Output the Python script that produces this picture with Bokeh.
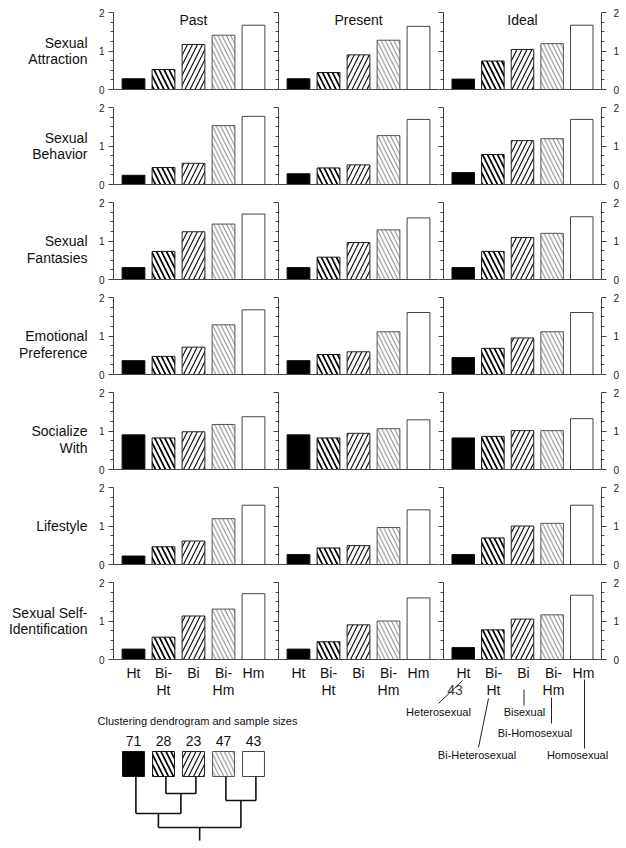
from bokeh.plotting import figure
from bokeh.layouts import row, column
from bokeh.models import Range1d, LinearAxis, FixedTicker, ColumnDataSource
from bokeh.core.properties import value
from bokeh.embed import file_html
from bokeh.resources import INLINE

# ---------------- data ----------------
groups = ["Ht", "Bi-Ht", "Bi", "Bi-Hm", "Hm"]
group_label_line1 = ["Ht", "Bi-", "Bi", "Bi-", "Hm"]
group_label_line2 = ["", "Ht", "", "Hm", ""]
group_names = ["Heterosexual", "Bi-Heterosexual", "Bisexual", "Bi-Homosexual", "Homosexual"]
periods = ["Past", "Present", "Ideal"]
dimensions = [["Sexual", "Attraction"], ["Sexual", "Behavior"], ["Sexual", "Fantasies"],
              ["Emotional", "Preference"], ["Socialize", "With"], ["Lifestyle"],
              ["Sexual Self-", "Identification"]]

past_values = [
    [0.28, 0.52, 1.17, 1.41, 1.67],
    [0.24, 0.44, 0.55, 1.53, 1.77],
    [0.31, 0.73, 1.24, 1.44, 1.70],
    [0.36, 0.47, 0.71, 1.29, 1.68],
    [0.90, 0.82, 0.98, 1.17, 1.37],
    [0.22, 0.46, 0.61, 1.19, 1.54],
    [0.27, 0.58, 1.13, 1.31, 1.71],
]
present_values = [
    [0.28, 0.44, 0.90, 1.28, 1.64],
    [0.28, 0.43, 0.51, 1.27, 1.69],
    [0.31, 0.58, 0.96, 1.29, 1.60],
    [0.36, 0.52, 0.59, 1.11, 1.61],
    [0.90, 0.82, 0.94, 1.06, 1.29],
    [0.26, 0.43, 0.49, 0.96, 1.42],
    [0.27, 0.46, 0.90, 1.00, 1.60],
]
ideal_values = [
    [0.27, 0.74, 1.04, 1.19, 1.67],
    [0.31, 0.78, 1.14, 1.19, 1.69],
    [0.31, 0.73, 1.09, 1.20, 1.63],
    [0.44, 0.68, 0.95, 1.11, 1.61],
    [0.82, 0.86, 1.01, 1.01, 1.32],
    [0.26, 0.69, 1.00, 1.07, 1.54],
    [0.31, 0.77, 1.05, 1.16, 1.67],
]
sample_sizes = [71, 28, 23, 47, 43]
y_major_ticks = [0, 1, 2]
y_minor_ticks = [0.25, 0.5, 0.75, 1.25, 1.5, 1.75]
# dendrogram merges: (node a, node b, linkage height); leaves 0..4, merged nodes 5..
dendro_merges = [(1, 2, 17), (3, 4, 24), (0, 5, 37), (7, 6, 51)]
dendro_root_stem = 13

all_values = [past_values, present_values, ideal_values]

# ---------------- style ----------------
FONT = "Liberation Sans"
FONTV = value(FONT)
group_fill = ["black", "white", "white", "white", "white"]
group_hatch = ["blank", "\\", "/", "\\", "blank"]
group_hatch_color = ["black", "black", "#111111", "#555555", "black"]
group_hatch_weight = [1, 1.7, 1.2, 0.8, 1]
group_hatch_scale = [10, 10, 10, 8.5, 10]
group_line_color = ["#111111", "#111111", "#222222", "#555555", "#444444"]
AXIS_COLOR = "#444444"

UNIT = 30.0
X0, X1 = 1 - 20 / UNIT, 5 + 20 / UNIT
FRAME_W, FRAME_H = 160, 77
PX_PER_Y = FRAME_H / 2.0
LABEL_W = 91
LEFTS = [22, 5, 5]
RIGHTS = [0, 0, 19]
BAR_W = 0.76
label_offsets = [0, 0, 8.25, 8.25, 8.25, 0, 0]
LINE_SP = 16.5

frame_lefts = [LABEL_W + LEFTS[0],
               LABEL_W + LEFTS[0] + FRAME_W + RIGHTS[0] + LEFTS[1],
               LABEL_W + LEFTS[0] + FRAME_W + LEFTS[1] + FRAME_W + LEFTS[2]]
col_offset = [(fl - frame_lefts[0]) / UNIT for fl in frame_lefts]
TOTAL_W = LABEL_W + sum(LEFTS) + 3 * FRAME_W + sum(RIGHTS)
N_ROWS = len(dimensions)


def row_borders(r):
    top = 12 if r == 0 else 5
    bottom = 7 if r == N_ROWS - 1 else 13
    return top, bottom


def clean(p):
    p.outline_line_color = None
    p.background_fill_color = "white"
    p.border_fill_color = "white"
    p.grid.visible = False


def style_y(ax, labels):
    ax.ticker = FixedTicker(ticks=y_major_ticks, minor_ticks=y_minor_ticks)
    ax.axis_line_color = AXIS_COLOR
    ax.major_tick_line_color = AXIS_COLOR
    ax.minor_tick_line_color = AXIS_COLOR
    ax.major_tick_in = 0
    ax.minor_tick_in = 0
    ax.major_tick_out = 5
    ax.minor_tick_out = 3
    ax.major_label_text_font = FONT
    ax.major_label_text_color = "#222222"
    ax.major_label_text_font_size = "10px"
    if labels:
        ax.major_label_standoff = 4 if labels != "right" else 7
    else:
        ax.major_label_overrides = {t: "" for t in y_major_ticks}
        ax.major_label_standoff = 0


def style_x(ax):
    ax.ticker = FixedTicker(ticks=[])
    ax.axis_line_color = AXIS_COLOR
    ax.major_tick_out = 0
    ax.major_tick_in = 0
    ax.minor_tick_out = 0
    ax.minor_tick_in = 0
    ax.major_label_standoff = 0


def bar_source(vals):
    return ColumnDataSource(dict(
        x=[i + 1 for i in range(len(groups))], top=vals,
        fill=group_fill, hatch=group_hatch, hcolor=group_hatch_color,
        hweight=group_hatch_weight, hscale=group_hatch_scale, lcolor=group_line_color))


def make_panel(r, c):
    top, bottom = row_borders(r)
    p = figure(width=LEFTS[c] + FRAME_W + RIGHTS[c], height=top + FRAME_H + bottom,
               x_range=Range1d(X0, X1), y_range=Range1d(0, 2),
               output_backend="svg", toolbar_location=None,
               min_border_left=LEFTS[c], min_border_right=RIGHTS[c],
               min_border_top=top, min_border_bottom=bottom,
               x_axis_location="below", y_axis_location="left")
    clean(p)
    style_y(p.yaxis[0], True if c == 0 else False)
    if c == 2:
        ax = LinearAxis()
        style_y(ax, "right")
        p.add_layout(ax, "right")
    style_x(p.xaxis[0])
    p.vbar(x="x", top="top", bottom=0, width=BAR_W, source=bar_source(all_values[c][r]),
           fill_color="fill", hatch_pattern="hatch", hatch_color="hcolor",
           hatch_weight="hweight", hatch_scale="hscale", line_color="lcolor", line_width=1)
    if r == 0:
        p.text(x=[3], y=[2 - 7 / PX_PER_Y], text=[periods[c]], text_font=FONTV,
               text_font_size="14px", text_align="center", text_baseline="middle",
               text_color="#111111")
    return p


def make_label(r):
    top, bottom = row_borders(r)
    p = figure(width=LABEL_W, height=top + FRAME_H + bottom,
               x_range=Range1d(0, LABEL_W), y_range=Range1d(0, 2),
               output_backend="svg", toolbar_location=None,
               min_border_left=0, min_border_right=0,
               min_border_top=top, min_border_bottom=bottom,
               x_axis_location=None, y_axis_location=None)
    clean(p)
    lines = dimensions[r]
    n = len(lines)
    ys = [1 - (label_offsets[r] + k * LINE_SP - (n - 1) * LINE_SP / 2) / PX_PER_Y for k in range(n)]
    p.text(x=[LABEL_W - 4] * n, y=ys, text=lines, text_font=FONTV, text_font_size="14px",
           text_align="right", text_baseline="middle", text_color="#111111")
    return p


rows = []
for r in range(N_ROWS):
    rows.append(row(make_label(r), make_panel(r, 0), make_panel(r, 1), make_panel(r, 2)))

# ---------------- bottom: category labels, dendrogram, annotations ----------------
BOT_TOP = sum(sum(row_borders(r)) + FRAME_H for r in range(N_ROWS))
BOT_H = 176
bx0 = X0 - frame_lefts[0] / UNIT
bfig = figure(width=TOTAL_W, height=BOT_H,
              x_range=Range1d(bx0, bx0 + TOTAL_W / UNIT), y_range=Range1d(BOT_H, 0),
              output_backend="svg", toolbar_location=None, min_border=0,
              x_axis_location=None, y_axis_location=None)
clean(bfig)


def bx(px):
    return bx0 + px / UNIT


def by(py):
    return py - BOT_TOP


cx, l1, l2 = [], [], []
for c in range(3):
    for i in range(len(groups)):
        cx.append(i + 1 + col_offset[c])
        l1.append(group_label_line1[i])
        l2.append(group_label_line2[i])
bfig.text(x=cx, y=[by(672)] * len(cx), text=l1, text_font=FONTV, text_font_size="14px",
          text_align="center", text_baseline="middle", text_color="#111111")
bfig.text(x=cx, y=[by(689.5)] * len(cx), text=l2, text_font=FONTV, text_font_size="14px",
          text_align="center", text_baseline="middle", text_color="#111111")

# dendrogram legend
bfig.text(x=[bx(197)], y=[by(720)], text=["Clustering dendrogram and sample sizes"],
          text_font=FONTV, text_font_size="11px", text_align="center",
          text_baseline="middle", text_color="#111111")
leaf_x = [i + 1 for i in range(len(groups))]
bfig.text(x=leaf_x, y=[by(740)] * len(leaf_x), text=[str(n) for n in sample_sizes],
          text_font=FONTV, text_font_size="14px", text_align="center",
          text_baseline="middle", text_color="#111111")
sq_src = bar_source([0] * len(groups))
bfig.rect(x="x", y=by(763.5), width=0.73, height=25, source=sq_src,
          fill_color="fill", hatch_pattern="hatch", hatch_color="hcolor",
          hatch_weight="hweight", hatch_scale="hscale", line_color="lcolor", line_width=1)

SQ_BOTTOM = by(776)
DX = 0.08
node_x = list(leaf_x)
node_y = [SQ_BOTTOM] * len(leaf_x)
dxs, dys = [], []
for a, b, h in dendro_merges:
    y = SQ_BOTTOM + h
    for nd in (a, b):
        dxs.append([node_x[nd] + DX, node_x[nd] + DX])
        dys.append([node_y[nd], y])
    dxs.append([node_x[a] + DX, node_x[b] + DX])
    dys.append([y, y])
    node_x.append((node_x[a] + node_x[b]) / 2)
    node_y.append(y)
dxs.append([node_x[-1] + DX, node_x[-1] + DX])
dys.append([node_y[-1], node_y[-1] + dendro_root_stem])
bfig.multi_line(dxs, dys, line_color="#111111", line_width=1.6)

# group name annotations under the Ideal column
ann_text_pos = [(438, 711), (476.5, 754), (524, 711), (534.5, 732), (577, 754)]
ann_lines = [((438, 703), (462, 680)), ((478, 747), (488, 698)), ((523.5, 689), (523.5, 705)),
             ((551, 697), (551, 723)), ((584, 679), (584, 748))]
bfig.text(x=[bx(454.5)], y=[by(689.5)], text=[str(sample_sizes[4])], text_font=FONTV,
          text_font_size="14px", text_align="center", text_baseline="middle",
          text_color="#444444")
bfig.text(x=[bx(p[0]) for p in ann_text_pos], y=[by(p[1]) for p in ann_text_pos],
          text=group_names, text_font=FONTV, text_font_size="11px", text_align="center",
          text_baseline="middle", text_color="#111111")
bfig.multi_line([[bx(a[0]), bx(b[0])] for a, b in ann_lines],
                [[by(a[1]), by(b[1])] for a, b in ann_lines],
                line_color="#222222", line_width=1)

layout = column(*rows, bfig)
open("out.html", "w").write(file_html(layout, INLINE))
